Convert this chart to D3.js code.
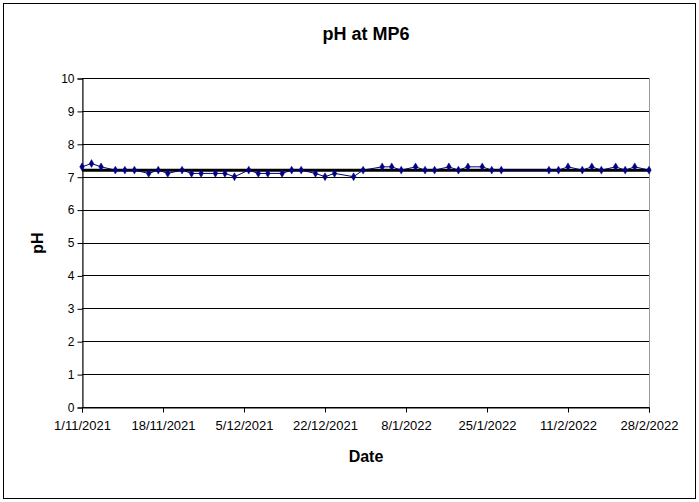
<!DOCTYPE html>
<html>
<head>
<meta charset="utf-8">
<script src="https://cdn.jsdelivr.net/npm/d3@7"></script>
<style>
  body { margin: 0; background: #fff; }
  svg { display: block; font-family: "Liberation Sans", Arial, sans-serif; }
</style>
</head>
<body>
<div id="chart"></div>
<script>
// sample dates (d/m/yyyy) and pH readings at MP6
var sampleDates = [
  '1/11/2021', '3/11/2021', '5/11/2021', '8/11/2021', '10/11/2021', '12/11/2021',
  '15/11/2021', '17/11/2021', '19/11/2021', '22/11/2021', '24/11/2021', '26/11/2021',
  '29/11/2021', '1/12/2021', '3/12/2021', '6/12/2021', '8/12/2021', '10/12/2021',
  '13/12/2021', '15/12/2021', '17/12/2021', '20/12/2021', '22/12/2021', '24/12/2021',
  '28/12/2021', '30/12/2021', '3/1/2022', '5/1/2022', '7/1/2022', '10/1/2022',
  '12/1/2022', '14/1/2022', '17/1/2022', '19/1/2022', '21/1/2022', '24/1/2022',
  '26/1/2022', '28/1/2022', '7/2/2022', '9/2/2022', '11/2/2022', '14/2/2022',
  '16/2/2022', '18/2/2022', '21/2/2022', '23/2/2022', '25/2/2022', '28/2/2022'
];
var phValues = [
  7.3, 7.4, 7.3, 7.2, 7.2, 7.2,
  7.1, 7.2, 7.1, 7.2, 7.1, 7.1,
  7.1, 7.1, 7.0, 7.2, 7.1, 7.1,
  7.1, 7.2, 7.2, 7.1, 7.0, 7.1,
  7.0, 7.2, 7.3, 7.3, 7.2, 7.3,
  7.2, 7.2, 7.3, 7.2, 7.3, 7.3,
  7.2, 7.2, 7.2, 7.2, 7.3, 7.2,
  7.3, 7.2, 7.3, 7.2, 7.3, 7.2
];
var xTickLabels = ['1/11/2021', '18/11/2021', '5/12/2021', '22/12/2021', '8/1/2022', '25/1/2022', '11/2/2022', '28/2/2022'];
var yTickValues = [0, 1, 2, 3, 4, 5, 6, 7, 8, 9, 10];

var width = 699, height = 502;
var margin = {top: 78, right: 50, bottom: 95, left: 82};

var parseDate = d3.timeParse('%d/%m/%Y');
var data = sampleDates.map(function(d, i) {
  return {date: parseDate(d), value: phValues[i]};
});
var tickDates = xTickLabels.map(parseDate);

var svg = d3.select('#chart').append('svg')
  .attr('width', width)
  .attr('height', height);

// outer chart frame
svg.append('rect')
  .attr('x', 3.5).attr('y', 3.5)
  .attr('width', width - 7).attr('height', height - 7)
  .style('fill', '#fff')
  .style('stroke', '#000')
  .style('stroke-width', 1);

var x = d3.scaleTime()
  .domain([tickDates[0], tickDates[tickDates.length - 1]])
  .range([margin.left, width - margin.right]);
var y = d3.scaleLinear()
  .domain([0, 10])
  .range([height - margin.bottom, margin.top]);

// plot area border (grey)
svg.append('rect')
  .attr('x', x.range()[0] + 0.5).attr('y', y(10) + 0.5)
  .attr('width', x.range()[1] - x.range()[0]).attr('height', y(0) - y(10))
  .style('fill', 'none')
  .style('stroke', '#999');

// horizontal gridlines
svg.append('g').selectAll('line')
  .data(yTickValues)
  .enter().append('line')
    .attr('x1', x.range()[0]).attr('x2', x.range()[1])
    .attr('y1', function(d) { return Math.round(y(d)) + 0.5; })
    .attr('y2', function(d) { return Math.round(y(d)) + 0.5; })
    .style('stroke', '#000')
    .style('stroke-width', 1);

// axes
var yAxis = d3.axisLeft(y).tickValues(yTickValues).tickSize(5).tickPadding(3);
var xAxis = d3.axisBottom(x).tickValues(tickDates).tickSize(5).tickPadding(8)
  .tickFormat(function(d, i) { return xTickLabels[i]; });

var gy = svg.append('g')
  .attr('transform', 'translate(' + (x.range()[0] + 0.5) + ',0.5)')
  .call(yAxis);
var gx = svg.append('g')
  .attr('transform', 'translate(0,' + (Math.round(y(0)) + 0.5) + ')')
  .call(xAxis);

[gx, gy].forEach(function(g) {
  g.select('.domain').style('stroke', '#000');
  g.selectAll('.tick line').style('stroke', '#000');
  g.selectAll('.tick text')
    .style('font-family', '"Liberation Sans", Arial, sans-serif')
    .style('fill', '#000');
});
gx.selectAll('.tick text').style('font-size', '13px');
gy.selectAll('.tick text').style('font-size', '12px');

// mean line (thick black)
var meanVal = d3.mean(phValues);
svg.append('line')
  .attr('x1', x.range()[0]).attr('x2', x.range()[1])
  .attr('y1', y(meanVal)).attr('y2', y(meanVal))
  .style('stroke', '#000')
  .style('stroke-width', 3);

// data line
var line = d3.line()
  .x(function(d) { return x(d.date); })
  .y(function(d) { return y(d.value); });

svg.append('path')
  .datum(data)
  .attr('d', line)
  .style('fill', 'none')
  .style('stroke', '#000080')
  .style('stroke-width', 1);

// diamond markers
var diamond = d3.symbol().type(d3.symbolDiamond).size(18);
svg.append('g').selectAll('path')
  .data(data)
  .enter().append('path')
    .attr('d', diamond)
    .attr('transform', function(d) {
      return 'translate(' + x(d.date) + ',' + y(d.value) + ')';
    })
    .style('fill', '#000080')
    .style('stroke', '#000080')
    .style('stroke-width', 0.5);

// titles
svg.append('text')
  .attr('x', 366).attr('y', 40)
  .attr('text-anchor', 'middle')
  .style('font-size', '18px')
  .style('font-weight', 'bold')
  .text('pH at MP6');

svg.append('text')
  .attr('x', 366).attr('y', 462)
  .attr('text-anchor', 'middle')
  .style('font-size', '16px')
  .style('font-weight', 'bold')
  .text('Date');

svg.append('text')
  .attr('transform', 'translate(43,243) rotate(-90)')
  .attr('text-anchor', 'middle')
  .style('font-size', '16px')
  .style('font-weight', 'bold')
  .text('pH');
</script>
</body>
</html>
